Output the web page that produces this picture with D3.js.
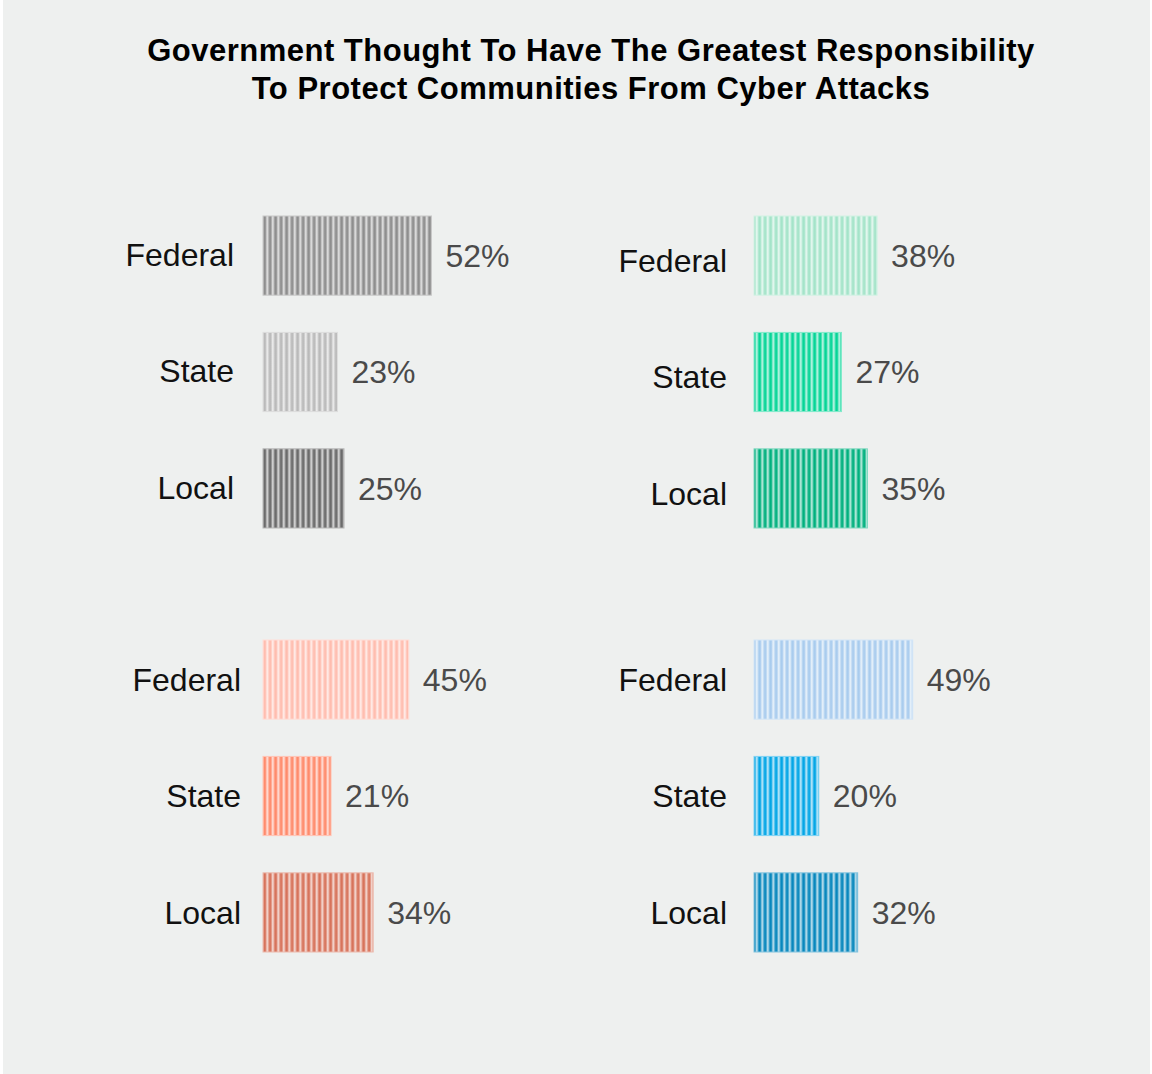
<!DOCTYPE html>
<html>
<head>
<meta charset="utf-8">
<title>Government responsibility</title>
<style>
body { margin: 0; background: #fff; }
text { font-family: "Liberation Sans", Arial, sans-serif; }
.title { font-size: 31px; font-weight: bold; fill: #000; letter-spacing: 0.5px; }
.cat { font-size: 32px; fill: #111; }
.val { font-size: 32px; fill: #4a4a4a; }
</style>
</head>
<body>
<script src="https://cdn.jsdelivr.net/npm/d3@7"></script>
<script>
// data
var categories = ["Federal", "State", "Local"];
var greyValues = [52, 23, 25];
var greenValues = [38, 27, 35];
var salmonValues = [45, 21, 34];
var blueValues = [49, 20, 32];
var titleLines = ["Government Thought To Have The Greatest Responsibility",
                  "To Protect Communities From Cyber Attacks"];

var width = 1152, height = 1074;

var svg = d3.select("body").append("svg")
    .attr("width", width)
    .attr("height", height);

svg.append("rect")
    .attr("x", 3).attr("y", 0)
    .attr("width", 1147).attr("height", height)
    .attr("fill", "#eef0ef");

svg.selectAll(".title")
    .data(titleLines)
    .enter().append("text")
    .attr("class", "title")
    .attr("x", 591)
    .attr("y", (d, i) => 61 + i * 38)
    .attr("text-anchor", "middle")
    .text(d => d);

// panels: where each little chart sits and its colours
var panels = [
  {values: greyValues,   colors: ["#8e8e8e", "#bababa", "#6b6b6b"], x0: 263, top: 216, labelGap: 29, labelDy: -1},
  {values: greenValues,  colors: ["#a4e4c9", "#05d597", "#00b07e"], x0: 754, top: 216, labelGap: 27, labelDy: 5},
  {values: salmonValues, colors: ["#ffbdaf", "#ff8b6c", "#d7735b"], x0: 263, top: 640, labelGap: 22, labelDy: 0},
  {values: blueValues,   colors: ["#a9ccee", "#03a6e6", "#0787bd"], x0: 754, top: 640, labelGap: 27, labelDy: 0}
];

var x = d3.scaleLinear().domain([0, 100]).range([0, 324]);

var defs = svg.append("defs");

// one striped pattern per colour
function stripePattern(id, color) {
  var light = d3.interpolateRgb(color, "#ffffff")(0.78);
  var g = defs.append("linearGradient")
      .attr("id", id + "-g")
      .attr("x1", "0%").attr("x2", "100%")
      .attr("y1", "0%").attr("y2", "0%");
  g.append("stop").attr("offset", "0%").attr("stop-color", color);
  g.append("stop").attr("offset", "22%").attr("stop-color", color);
  g.append("stop").attr("offset", "60%").attr("stop-color", light);
  g.append("stop").attr("offset", "100%").attr("stop-color", color);
  var p = defs.append("pattern")
      .attr("id", id)
      .attr("patternUnits", "userSpaceOnUse")
      .attr("width", 5.5).attr("height", 10);
  p.append("rect")
      .attr("width", 5.5).attr("height", 10)
      .attr("fill", "url(#" + id + "-g)");
}

panels.forEach(function(panel, pi) {
  var y = d3.scaleBand()
      .domain(categories)
      .range([panel.top, panel.top + 312])
      .paddingInner(0.32);

  panel.colors.forEach((c, ci) => stripePattern("st" + pi + "-" + ci, c));

  var g = svg.append("g");
  var rows = categories.map((c, i) => ({cat: c, value: panel.values[i], i: i}));

  g.selectAll("rect.bar")
      .data(rows)
      .enter().append("rect")
      .attr("class", "bar")
      .attr("x", panel.x0)
      .attr("y", d => y(d.cat))
      .attr("width", d => x(d.value))
      .attr("height", y.bandwidth())
      .attr("fill", d => "url(#st" + pi + "-" + d.i + ")")
      .attr("stroke", d => d3.interpolateRgb(panel.colors[d.i], "#ffffff")(0.5))
      .attr("stroke-width", 1);

  g.selectAll("text.cat")
      .data(rows)
      .enter().append("text")
      .attr("class", "cat")
      .attr("x", panel.x0 - panel.labelGap)
      .attr("y", d => y(d.cat) + y.bandwidth() / 2 + panel.labelDy)
      .attr("dy", "0.35em")
      .attr("text-anchor", "end")
      .text(d => d.cat);

  g.selectAll("text.val")
      .data(rows)
      .enter().append("text")
      .attr("class", "val")
      .attr("x", d => panel.x0 + x(d.value) + 14)
      .attr("y", d => y(d.cat) + y.bandwidth() / 2)
      .attr("dy", "0.35em")
      .text(d => d.value + "%");
});
</script>
</body>
</html>
